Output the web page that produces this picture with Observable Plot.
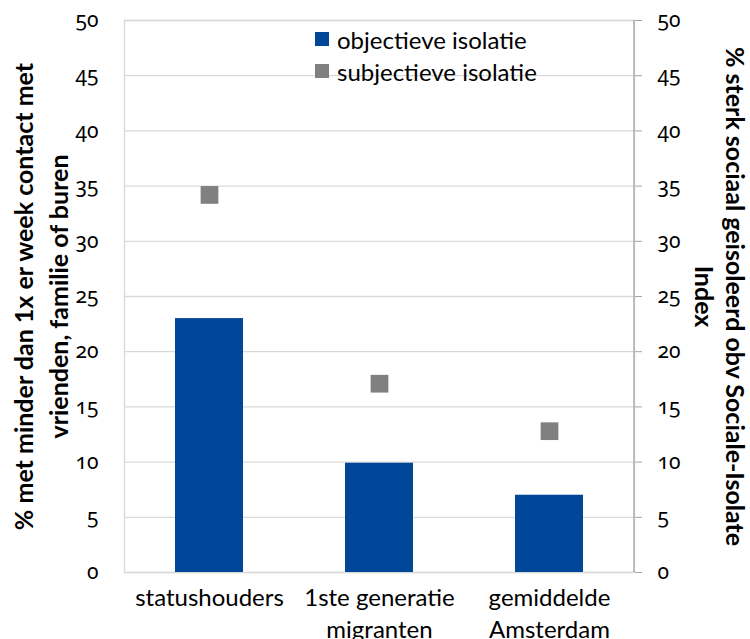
<!DOCTYPE html>
<html>
<head>
<meta charset="utf-8">
<script src="https://cdn.jsdelivr.net/npm/d3@7"></script>
<script src="https://cdn.jsdelivr.net/npm/@observablehq/plot@0.6"></script>
<style>
  html, body { margin: 0; padding: 0; background: #fff; }
  #wrap { position: relative; width: 750px; height: 639px; font-family: Lato, "Open Sans", sans-serif; }
  #wrap svg .ytick text { font-family: "Noto Sans", Lato, sans-serif; font-feature-settings: "onum"; }
  #legend { position: absolute; left: 313px; top: 23px; font-size: 24px; color: #000; }
  #legend .row { display: flex; align-items: center; height: 32px; }
  #legend .sw { width: 14px; height: 14px; margin-right: 8px; margin-left: 2px; }
</style>
</head>
<body>
<div id="wrap"><div id="legend"></div></div>
<script>
const categories = ["statushouders", "1ste generatie migranten", "gemiddelde Amsterdam"];
const tickLabels = ["statushouders", "1ste generatie\nmigranten", "gemiddelde\nAmsterdam"];
const objectieve = [23.0, 9.9, 7.0];
const subjectieve = [34.2, 17.1, 12.8];
const yTicks = [0, 5, 10, 15, 20, 25, 30, 35, 40, 45, 50];
const seriesNames = ["objectieve isolatie", "subjectieve isolatie"];
const seriesColors = ["#00479a", "#808080"];
const leftTitle = "% met minder dan 1x er week contact met\nvrienden, familie of buren";
const rightTitle = "% sterk sociaal geisoleerd obv Sociale-Isolate\nIndex";

const data = categories.map((c, i) => ({cat: c, obj: objectieve[i], subj: subjectieve[i]}));
const labelOf = new Map(categories.map((c, i) => [c, tickLabels[i]]));

const rightAxisLine = (index, scales, values, dimensions) => {
  const {width, height, marginRight, marginTop, marginBottom} = dimensions;
  const x = width - marginRight;
  const l = d3.create("svg:line")
    .attr("x1", x).attr("x2", x)
    .attr("y1", marginTop).attr("y2", height - marginBottom)
    .attr("stroke", "#a6a6a6").attr("stroke-width", 1.3);
  return l.node();
};

const chart = Plot.plot({
  width: 750,
  height: 639,
  marginLeft: 124,
  marginRight: 116,
  marginTop: 20,
  marginBottom: 67,
  style: {fontFamily: "Lato, 'Open Sans', sans-serif", background: "#fff", color: "#000"},
  x: {domain: categories, paddingInner: 0.6, paddingOuter: 0.3, align: 0.5},
  y: {domain: [0, 50]},
  marks: [
    Plot.gridY(yTicks, {stroke: "#d9d9d9", strokeOpacity: 1, strokeWidth: 1.3}),
    Plot.frame({stroke: "#d9d9d9", strokeWidth: 1.3}),
    Plot.barY(data, {x: "cat", y: "obj", fill: seriesColors[0]}),
    Plot.dot(data, {x: "cat", y: "subj", symbol: "square", r: 10, fill: seriesColors[1], stroke: "none"}),
    rightAxisLine,
    Plot.axisY(yTicks, {anchor: "left", tickSize: 0, tickPadding: 26, fontSize: 21, label: null, className: "ytick"}),
    Plot.axisY(yTicks, {anchor: "right", tickSize: 7, tickPadding: 16, stroke: "#a6a6a6", fontSize: 21, label: null, className: "ytick"}),
    Plot.axisX({tickSize: 0, tickPadding: 11, fontSize: 24, lineHeight: 1.33, label: null, tickFormat: d => labelOf.get(d)}),
    Plot.text([leftTitle], {frameAnchor: "left", dx: -85, rotate: -90, fontSize: 25, fontWeight: "bold", lineHeight: 1.4, textAnchor: "middle"}),
    Plot.text([rightTitle], {frameAnchor: "right", dx: 86, rotate: 90, fontSize: 25, fontWeight: "bold", lineHeight: 1.24, textAnchor: "middle"})
  ]
});
document.getElementById("wrap").prepend(chart);

const legend = d3.select("#legend");
seriesNames.forEach((n, i) => {
  const row = legend.append("div").attr("class", "row");
  row.append("div").attr("class", "sw").style("background", seriesColors[i]);
  row.append("span").text(n);
});
</script>
</body>
</html>
